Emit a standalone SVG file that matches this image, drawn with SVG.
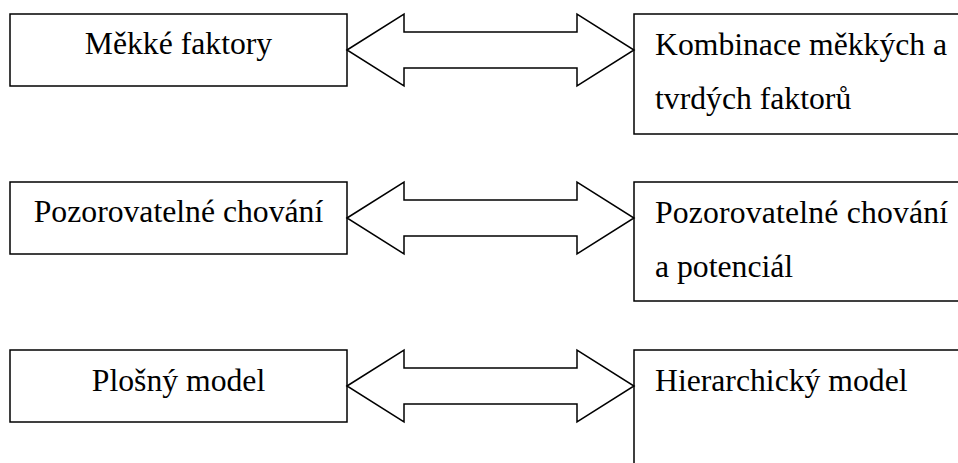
<svg xmlns="http://www.w3.org/2000/svg" width="958" height="463" viewBox="0 0 958 463">
  <style>
    .box { fill: #ffffff; stroke: #000000; stroke-width: 1.5; }
    .arrow { fill: #ffffff; stroke: #000000; stroke-width: 1.5; stroke-linejoin: miter; }
    .lbl { font-size: 31.7px; fill: #000000; }
    .mid { text-anchor: middle; }
  </style>
  <rect width="958" height="463" fill="#ffffff"/>

  <g font-family="'Liberation Serif', 'Times New Roman', serif">
    <!-- Row 1 -->
    <g id="soft-factors">
      <rect class="box" x="10" y="14" width="337" height="72"/>
      <text class="lbl mid" x="178.5" y="54">Měkké faktory</text>
    </g>
    <g id="soft-hard-factors">
      <rect class="box" x="634" y="14" width="340" height="120"/>
      <text class="lbl" x="655" y="55">Kombinace měkkých a</text>
      <text class="lbl" x="655" y="109">tvrdých faktorů</text>
    </g>

    <!-- Row 2 -->
    <g id="observable-behaviour">
      <rect class="box" x="10" y="182" width="337" height="72"/>
      <text class="lbl mid" x="178.5" y="222">Pozorovatelné chování</text>
    </g>
    <g id="behaviour-potential">
      <rect class="box" x="634" y="182" width="340" height="119"/>
      <text class="lbl" x="655" y="223" textLength="293" lengthAdjust="spacing">Pozorovatelné chování</text>
      <text class="lbl" x="655" y="277">a potenciál</text>
    </g>

    <!-- Row 3 -->
    <g id="flat-model">
      <rect class="box" x="10" y="350" width="337" height="72"/>
      <text class="lbl mid" x="178.5" y="391">Plošný model</text>
    </g>
    <g id="hierarchical-model">
      <rect class="box" x="634" y="350" width="340" height="130"/>
      <text class="lbl" x="655" y="391">Hierarchický model</text>
    </g>
  </g>

  <!-- Double-headed block arrows between the columns -->
  <g id="connectors">
    <polygon class="arrow" points="347,50 404,14 404,32 577,32 577,14 634,50 577,86 577,68 404,68 404,86"/>
    <polygon class="arrow" points="347,218 404,182 404,200 577,200 577,182 634,218 577,254 577,236 404,236 404,254"/>
    <polygon class="arrow" points="347,386 404,350 404,368 577,368 577,350 634,386 577,422 577,404 404,404 404,422"/>
  </g>
</svg>
